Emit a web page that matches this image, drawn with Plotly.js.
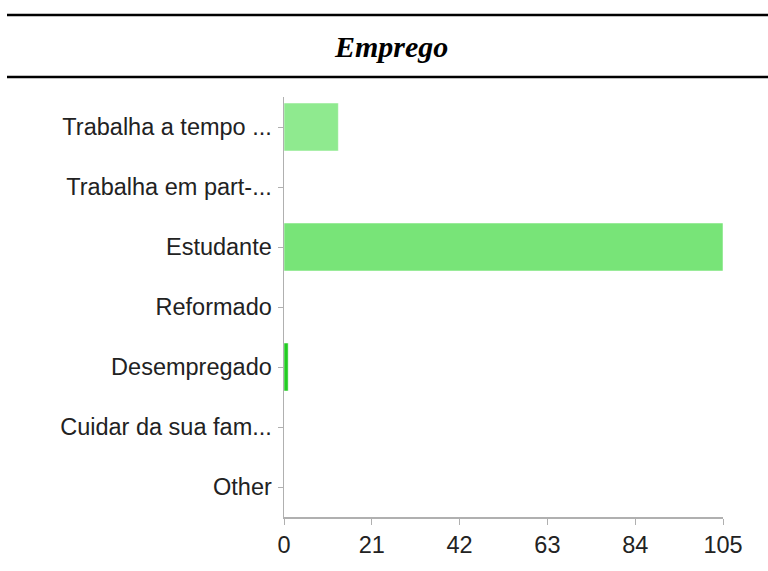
<!DOCTYPE html>
<html>
<head>
    <script src="https://cdn.plot.ly/plotly-3.0.1.min.js"></script>
    <style>
        html, body { margin: 0; padding: 0; background: #ffffff; }
        #chart { width: 768px; height: 571px; }
    </style>
</head>
<body>
    <div id="chart"></div>
    <script>
        // Survey answers for "Emprego"
        const categories = [
            'Trabalha a tempo ...',
            'Trabalha em part-...',
            'Estudante',
            'Reformado',
            'Desempregado',
            'Cuidar da sua fam...',
            'Other'
        ];
        const counts = [13, 0, 105, 0, 1, 0, 0];
        const barColors = ['#8fea8f', '#90ea90', '#78e478', '#90ea90', '#22cc22', '#90ea90', '#90ea90'];
        const xTicks = [0, 21, 42, 63, 84, 105];

        const data = [{
            type: 'bar',
            orientation: 'h',
            x: counts,
            y: categories,
            marker: {
                color: barColors,
                line: { color: 'rgba(255,255,255,0.5)', width: 1 }
            },
            hoverinfo: 'x+y'
        }];

        const tickFont = { family: '"Liberation Sans", Arial, sans-serif', size: 23.5, color: '#222222' };

        const layout = {
            width: 768,
            height: 571,
            margin: { l: 284, r: 45, t: 97, b: 54 },
            paper_bgcolor: '#ffffff',
            plot_bgcolor: '#ffffff',
            showlegend: false,
            bargap: 0.2,
            title: {
                text: '<b><i>Emprego</i></b>',
                font: { family: '"Liberation Serif", "Times New Roman", serif', size: 30, color: '#000000' },
                x: 0.51,
                xanchor: 'center',
                y: 1 - 46 / 571,
                yanchor: 'middle'
            },
            xaxis: {
                range: [0, 105],
                tickvals: xTicks,
                ticktext: xTicks.map(String),
                showgrid: false,
                zeroline: false,
                showline: true,
                linecolor: '#b0b0b0',
                linewidth: 1.5,
                ticks: 'outside',
                ticklen: 6,
                tickcolor: '#b0b0b0',
                tickfont: tickFont,
                fixedrange: true
            },
            yaxis: {
                type: 'category',
                autorange: 'reversed',
                showgrid: false,
                zeroline: false,
                showline: true,
                linecolor: '#b0b0b0',
                linewidth: 1.5,
                ticks: 'outside',
                ticklen: 5,
                tickcolor: '#b0b0b0',
                tickfont: tickFont,
                ticklabelstandoff: 1,
                fixedrange: true
            },
            shapes: [
                // rules above and below the heading
                {
                    type: 'line', xref: 'paper', yref: 'paper',
                    x0: (7 - 284) / 439, x1: (768 - 284) / 439,
                    y0: (517 - 15) / 420, y1: (517 - 15) / 420,
                    line: { color: '#000000', width: 2.5 }
                },
                {
                    type: 'line', xref: 'paper', yref: 'paper',
                    x0: (7 - 284) / 439, x1: (768 - 284) / 439,
                    y0: (517 - 77) / 420, y1: (517 - 77) / 420,
                    line: { color: '#000000', width: 2.5 }
                }
            ]
        };

        Plotly.newPlot('chart', data, layout, { displayModeBar: false, staticPlot: true });
    </script>
</body>
</html>
